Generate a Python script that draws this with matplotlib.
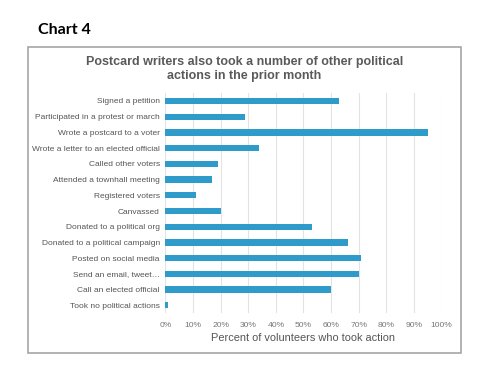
import matplotlib.pyplot as plt
from matplotlib.patches import Rectangle

actions = [
    "Signed a petition",
    "Participated in a protest or march",
    "Wrote a postcard to a voter",
    "Wrote a letter to an elected official",
    "Called other voters",
    "Attended a townhall meeting",
    "Registered voters",
    "Canvassed",
    "Donated to a political org",
    "Donated to a political campaign",
    "Posted on social media",
    "Send an email, tweet\u2026",
    "Call an elected official",
    "Took no political actions",
]
percent = [63, 29, 95, 34, 19, 17, 11, 20, 53, 66, 71, 70, 60, 1]
ticks = list(range(0, 101, 10))
tick_labels = [f"{t}%" for t in ticks]

plt.rcParams['font.family'] = ['Liberation Sans', 'DejaVu Sans']

fig = plt.figure(figsize=(4.81, 3.73), dpi=100)
fig.patch.set_facecolor("white")

# outer frame of the chart
fig.patches.append(Rectangle((28 / 481, 1 - 353 / 373), 433 / 481, 306 / 373,
                             transform=fig.transFigure, fill=False,
                             edgecolor="#a6a6a6", linewidth=1.2))

fig.text(38 / 481, 1 - 30 / 373, "Chart 4", fontsize=11.5, fontweight="bold",
         family=["Lato", "DejaVu Sans"], va="center", ha="left")
fig.text(0.508, 1 - 62 / 373, "Postcard writers also took a number of other political",
         fontsize=9, fontweight="bold", color="#5a5a5a", ha="center", va="center")
fig.text(0.508, 1 - 76.5 / 373, "actions in the prior month",
         fontsize=9, fontweight="bold", color="#5a5a5a", ha="center", va="center")

ax = fig.add_axes([0.3437, 0.1603, 0.918 - 0.3437, 0.7503 - 0.1603])
y = list(range(len(actions)))
ax.barh(y, percent, height=0.4, color="#2e9bcb")
ax.set_ylim(len(actions) - 0.5, -0.5)
ax.set_xlim(0, 100)
ax.set_yticks(y)
ax.set_yticklabels(actions, fontsize=6.0, color="#555555")
ax.set_xticks(ticks)
ax.set_xticklabels(tick_labels, fontsize=6.1, color="#777777")
ax.tick_params(axis="y", length=0, pad=4)
ax.tick_params(axis="x", length=0, pad=6)
ax.xaxis.grid(True, color="#e3e3e3", linewidth=0.8)
ax.set_axisbelow(True)
for s in ax.spines.values():
    s.set_visible(False)
ax.set_xlabel("Percent of volunteers who took action", fontsize=7.9,
              color="#555555", labelpad=3)

fig.savefig("out.png", dpi=100)
